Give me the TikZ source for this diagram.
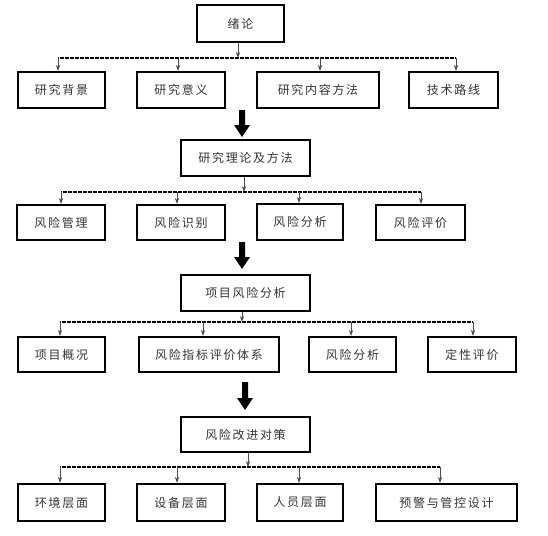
\documentclass[tikz,border=0pt]{standalone}
\usepackage{fontspec}
\newfontfamily\cjk[LetterSpace=14]{Noto Sans CJK SC}
\usetikzlibrary{fit,arrows.meta}
\begin{document}
\begin{tikzpicture}[x=0.75pt,y=-0.75pt,
  box/.style={draw=black,line width=1.6pt,inner sep=0pt},
  lbl/.style={font=\cjk\fontsize{9pt}{10pt}\selectfont,text=black!80,inner sep=0pt},
  bus/.style={line width=1.1pt,dash pattern=on 1pt off 0.25pt},
  thin/.style={draw=black!70,line width=0.6pt},
  tip/.style={thin,-{Stealth[length=4.5pt,width=3.2pt]}},
  bigarrow/.style={fill=black,draw=none}]
\useasboundingbox (0,0) rectangle (548,535);

% ---------- row 1
\node[box,fit={(197,5)(284,42)}] (p1) {};
\node[lbl] at (p1.center) {绪论};
\node[box,fit={(18,72)(105,108)}] (a1) {};
\node[lbl] at (a1.center) {研究背景};
\node[box,fit={(137,72)(225,108)}] (a2) {};
\node[lbl] at (a2.center) {研究意义};
\node[box,fit={(257,72)(379,108)}] (a3) {};
\node[lbl] at (a3.center) {研究内容方法};
\node[box,fit={(409,72)(498,108)}] (a4) {};
\node[lbl] at (a4.center) {技术路线};
\coordinate (s1) at (238,58);
\coordinate (l1a) at (58,58);
\coordinate (l1b) at (456,58);
\draw[bus] (l1a) -- (l1b);
\draw[tip] (p1.south -| s1) -- (s1);
\coordinate (c11) at (58,58);
\coordinate (c12) at (178,58);
\coordinate (c13) at (320,58);
\coordinate (c14) at (456,58);
\draw[tip] (c11) -- (c11 |- a1.north);
\draw[tip] (c12) -- (c12 |- a2.north);
\draw[tip] (c13) -- (c13 |- a3.north);
\draw[tip] (c14) -- (c14 |- a4.north);

% big arrow 1
\coordinate (ba1) at (242,110);
\fill[bigarrow] (ba1) ++(-3,0) -- ++(6,0) -- ++(0,15) -- ++(5,0) -- ++(-8,12) -- ++(-8,-12) -- ++(5,0) -- cycle;

% ---------- row 2
\node[box,fit={(181,140)(310,176)}] (p2) {};
\node[lbl] at (p2.center) {研究理论及方法};
\node[box,fit={(17,205)(105,240)}] (b1) {};
\node[lbl] at (b1.center) {风险管理};
\node[box,fit={(137,205)(225,240)}] (b2) {};
\node[lbl] at (b2.center) {风险识别};
\node[box,fit={(257,204)(343,240)}] (b3) {};
\node[lbl] at (b3.center) {风险分析};
\node[box,fit={(376,205)(465,240)}] (b4) {};
\node[lbl] at (b4.center) {风险评价};
\coordinate (s2) at (244,192);
\coordinate (l2a) at (61,192);
\coordinate (l2b) at (421,192);
\draw[bus] (l2a) -- (l2b);
\draw[tip] (p2.south -| s2) -- (s2);
\coordinate (c21) at (61,192);
\coordinate (c22) at (177,192);
\coordinate (c23) at (299,192);
\coordinate (c24) at (421,192);
\draw[tip] (c21) -- (c21 |- b1.north);
\draw[tip] (c22) -- (c22 |- b2.north);
\draw[tip] (c23) -- (c23 |- b3.north);
\draw[tip] (c24) -- (c24 |- b4.north);

% big arrow 2
\coordinate (ba2) at (242,242);
\fill[bigarrow] (ba2) ++(-3,0) -- ++(6,0) -- ++(0,15) -- ++(5,0) -- ++(-8,12) -- ++(-8,-12) -- ++(5,0) -- cycle;

% ---------- row 3
\node[box,fit={(181,275)(310,311)}] (p3) {};
\node[lbl] at (p3.center) {项目风险分析};
\node[box,fit={(18,337)(105,372)}] (d1) {};
\node[lbl] at (d1.center) {项目概况};
\node[box,fit={(139,337)(279,372)}] (d2) {};
\node[lbl] at (d2.center) {风险指标评价体系};
\node[box,fit={(309,337)(396,372)}] (d3) {};
\node[lbl] at (d3.center) {风险分析};
\node[box,fit={(428,337)(516,372)}] (d4) {};
\node[lbl] at (d4.center) {定性评价};
\coordinate (s3) at (242,322);
\coordinate (l3a) at (60,322);
\coordinate (l3b) at (473,322);
\draw[bus] (l3a) -- (l3b);
\draw[tip] (p3.south -| s3) -- (s3);
\coordinate (c31) at (60,322);
\coordinate (c32) at (203,322);
\coordinate (c33) at (351,322);
\coordinate (c34) at (473,322);
\draw[tip] (c31) -- (c31 |- d1.north);
\draw[tip] (c32) -- (c32 |- d2.north);
\draw[tip] (c33) -- (c33 |- d3.north);
\draw[tip] (c34) -- (c34 |- d4.north);

% big arrow 3
\coordinate (ba3) at (245,382);
\fill[bigarrow] (ba3) ++(-3,0) -- ++(6,0) -- ++(0,16) -- ++(5,0) -- ++(-8,12) -- ++(-8,-12) -- ++(5,0) -- cycle;

% ---------- row 4
\node[box,fit={(181,417)(310,452)}] (p4) {};
\node[lbl] at (p4.center) {风险改进对策};
\node[box,fit={(18,484)(105,521)}] (e1) {};
\node[lbl] at (e1.center) {环境层面};
\node[box,fit={(137,484)(225,521)}] (e2) {};
\node[lbl] at (e2.center) {设备层面};
\node[box,fit={(257,484)(343,521)}] (e3) {};
\node[lbl] at (e3.center) {人员层面};
\node[box,fit={(376,484)(517,521)}] (e4) {};
\node[lbl] at (e4.center) {预警与管控设计};
\coordinate (s4) at (248,467);
\coordinate (l4a) at (60,467);
\coordinate (l4b) at (440,467);
\draw[bus] (l4a) -- (l4b);
\draw[tip] (p4.south -| s4) -- (s4);
\coordinate (c41) at (60,467);
\coordinate (c42) at (177,467);
\coordinate (c43) at (299,467);
\coordinate (c44) at (440,467);
\draw[tip] (c41) -- (c41 |- e1.north);
\draw[tip] (c42) -- (c42 |- e2.north);
\draw[tip] (c43) -- (c43 |- e3.north);
\draw[tip] (c44) -- (c44 |- e4.north);
\end{tikzpicture}
\end{document}
